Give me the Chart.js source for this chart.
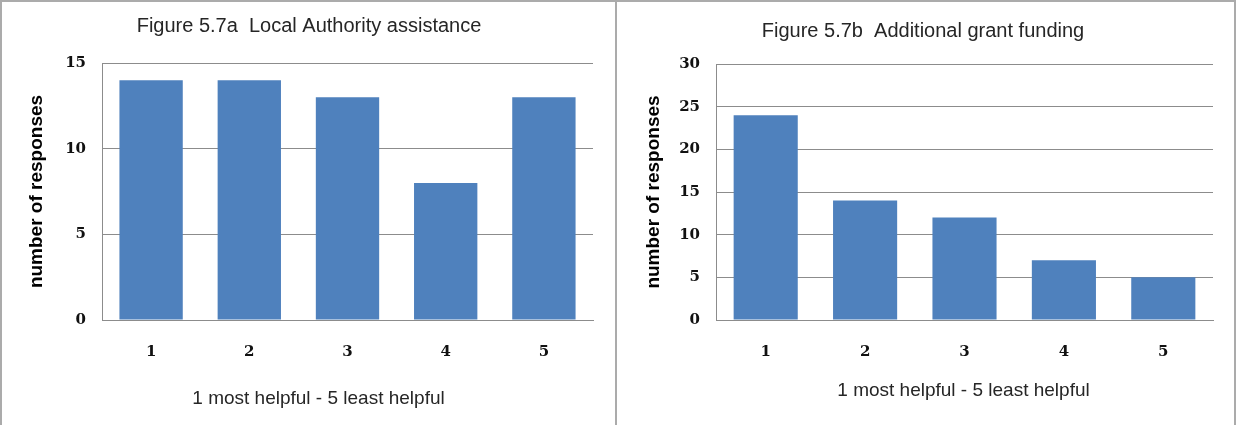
<!DOCTYPE html>
<html>
<head>
<meta charset="utf-8">
<title>Figure 5.7</title>
<script src="https://cdn.jsdelivr.net/npm/chart.js@4.4.1/dist/chart.umd.min.js"></script>
<style>
  html, body { margin: 0; padding: 0; background: #fff; width: 1236px; height: 425px; overflow: hidden; }
  .panel { position: absolute; top: 0; height: 440px; border: 2px solid #ababab; box-sizing: border-box; background: #fff; }
  #panelA { left: 0; width: 617px; }
  #panelB { left: 615px; width: 621px; }
  canvas { position: absolute; left: 0; top: 0; }
</style>
</head>
<body>
<div class="panel" id="panelA"><canvas id="chartA" width="613" height="423"></canvas></div>
<div class="panel" id="panelB"><canvas id="chartB" width="617" height="423"></canvas></div>
<script>
// Rating categories (1 most helpful - 5 least helpful)
const categories = ['1', '2', '3', '4', '5'];

// Figure 5.7a: Local Authority assistance
const localAuthorityResponses = [14, 14, 13, 8, 13];
const localAuthorityTicks = [0, 5, 10, 15];

// Figure 5.7b: Additional grant funding
const grantFundingResponses = [24, 14, 12, 7, 5];
const grantFundingTicks = [0, 5, 10, 15, 20, 25, 30];

const titleA = 'Figure 5.7a  Local Authority assistance';
const titleB = 'Figure 5.7b  Additional grant funding';
const yAxisTitle = 'number of responses';
const xAxisCaption = '1 most helpful - 5 least helpful';

const SANS = "'Liberation Sans', Arial, sans-serif";
const SERIF = "'DejaVu Serif', 'Liberation Serif', serif";
const BAR_BLUE = '#4f81bd';
const GRID_GREY = '#8c8c8c';

// Draws the horizontal-axis caption below the tick labels.
const captionPlugin = {
  id: 'caption',
  afterDraw(chart, args, opts) {
    const { ctx, chartArea } = chart;
    ctx.save();
    ctx.font = opts.font;
    ctx.fillStyle = opts.color;
    ctx.textAlign = 'center';
    ctx.textBaseline = 'middle';
    ctx.fillText(opts.text, (chartArea.left + chartArea.right) / 2 + opts.dx, chart.height - opts.fromBottom);
    ctx.restore();
  }
};

function buildChart(canvasId, title, values, ticks, layout) {
  const maxTick = ticks[ticks.length - 1];
  const step = ticks[1] - ticks[0];
  return new Chart(document.getElementById(canvasId), {
    type: 'bar',
    data: {
      labels: categories,
      datasets: [{
        data: values,
        backgroundColor: BAR_BLUE,
        borderWidth: 0,
        barPercentage: 0.645,
        categoryPercentage: 1.0
      }]
    },
    plugins: [captionPlugin],
    options: {
      responsive: false,
      animation: false,
      devicePixelRatio: 1,
      layout: { padding: { left: layout.padLeft, right: layout.padRight, top: 0, bottom: 0 } },
      plugins: {
        legend: { display: false },
        tooltip: { enabled: false },
        title: {
          display: true,
          text: title,
          color: '#262626',
          font: { family: SANS, size: 20, weight: 'normal', lineHeight: 1.2 },
          padding: { top: layout.titleTop, bottom: layout.titleBottom }
        },
        caption: {
          text: xAxisCaption,
          font: "19px " + SANS,
          color: '#262626',
          dx: layout.captionDx,
          fromBottom: layout.captionFromBottom
        }
      },
      scales: {
        x: {
          grid: { display: false, drawTicks: false },
          border: { display: true, color: GRID_GREY, width: 1 },
          ticks: {
            color: '#111',
            padding: 23,
            font: { family: SERIF, size: 15, weight: 'bold', lineHeight: 1.2 }
          },
          afterFit(scale) { scale.height = layout.xAxisHeight; }
        },
        y: {
          min: 0,
          max: maxTick,
          grid: { color: GRID_GREY, lineWidth: 1, drawTicks: false },
          border: { display: true, color: GRID_GREY, width: 1 },
          ticks: {
            stepSize: step,
            color: '#111',
            padding: 16,
            font: { family: SERIF, size: 15, weight: 'bold', lineHeight: 1.2 }
          },
          title: {
            display: true,
            text: yAxisTitle,
            color: '#000',
            font: { family: SANS, size: 19, weight: 'bold', lineHeight: 1.2 },
            padding: { top: layout.yTitlePad, bottom: 0 }
          },
          afterFit(scale) { scale.width = layout.yAxisWidth; }
        }
      }
    }
  });
}

buildChart('chartA', titleA, localAuthorityResponses, localAuthorityTicks, {
  padLeft: 23, padRight: 22, titleTop: 12.5, titleBottom: 24.5, yAxisWidth: 77, xAxisHeight: 105,
  yTitlePad: 0.6, captionDx: -29, captionFromBottom: 26
});

buildChart('chartB', titleB, grantFundingResponses, grantFundingTicks, {
  padLeft: 16, padRight: 21, titleTop: 17.5, titleBottom: 20.5, yAxisWidth: 83, xAxisHeight: 105,
  yTitlePad: 9, captionDx: -1, captionFromBottom: 34
});
</script>
</body>
</html>
